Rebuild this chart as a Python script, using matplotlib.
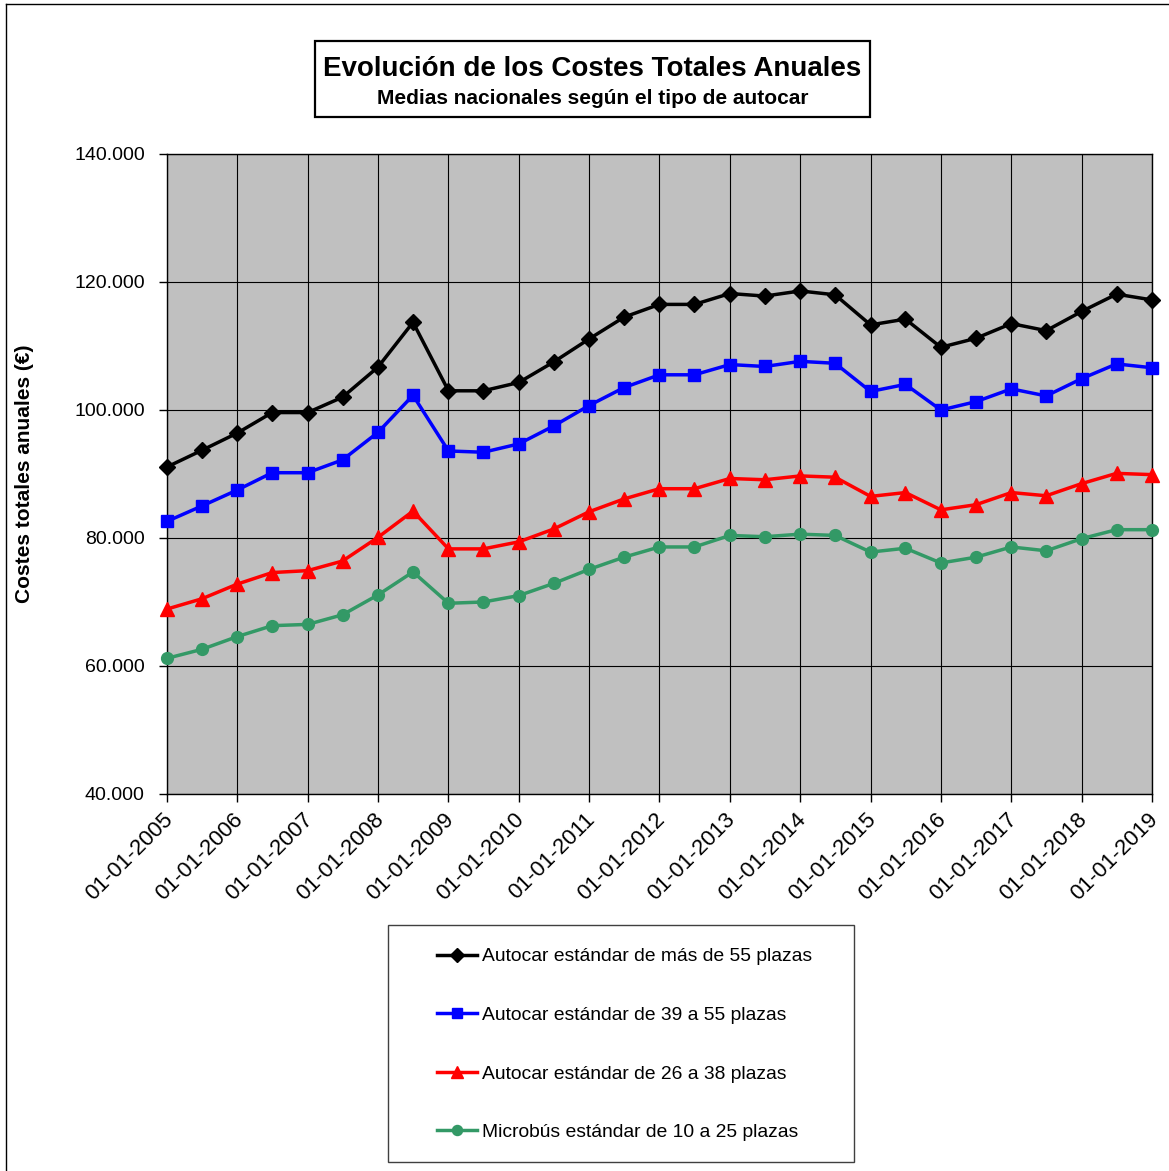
import matplotlib
matplotlib.use("Agg")
import matplotlib.pyplot as plt
import matplotlib.transforms as mtransforms
from matplotlib.patches import Rectangle
from matplotlib.lines import Line2D
import pandas as pd

plt.rcParams['font.family'] = ['Liberation Sans', 'DejaVu Sans']

# ---- data ----
dates = pd.date_range("2005-01-01", "2019-01-01", freq="6MS")

mas_55 = [91.1, 93.7, 96.4, 99.6, 99.6, 102.0, 106.7, 113.7, 103.0, 103.0,
          104.3, 107.5, 111.1, 114.5, 116.5, 116.5, 118.2, 117.8, 118.6,
          118.0, 113.3, 114.2, 109.8, 111.2, 113.5, 112.4, 115.4, 118.1, 117.2]
de_39_55 = [82.6, 85.0, 87.5, 90.2, 90.2, 92.2, 96.5, 102.3, 93.6, 93.4,
            94.7, 97.5, 100.7, 103.5, 105.5, 105.5, 107.1, 106.8, 107.6,
            107.3, 102.9, 104.0, 100.0, 101.3, 103.3, 102.2, 104.9, 107.2, 106.6]
de_26_38 = [68.9, 70.5, 72.8, 74.6, 74.9, 76.4, 80.1, 84.2, 78.3, 78.3,
            79.4, 81.4, 84.1, 86.1, 87.7, 87.7, 89.3, 89.1, 89.7,
            89.5, 86.5, 87.1, 84.4, 85.2, 87.1, 86.6, 88.5, 90.1, 89.9]
micro_10_25 = [61.2, 62.6, 64.6, 66.3, 66.5, 68.0, 71.1, 74.7, 69.8, 70.0,
               71.0, 72.9, 75.1, 77.0, 78.6, 78.6, 80.4, 80.2, 80.6,
               80.4, 77.8, 78.4, 76.1, 77.0, 78.6, 78.0, 79.9, 81.3, 81.3]

series_labels = ["Autocar estándar de más de 55 plazas",
                 "Autocar estándar de 39 a 55 plazas",
                 "Autocar estándar de 26 a 38 plazas",
                 "Microbús estándar de 10 a 25 plazas"]

y_ticks = [40000, 60000, 80000, 100000, 120000, 140000]
y_tick_labels = ["40.000", "60.000", "80.000", "100.000", "120.000", "140.000"]
x_tick_years = list(range(2005, 2020))
x_tick_labels = ["01-01-%d" % y for y in x_tick_years]

title = "Evolución de los Costes Totales Anuales"
subtitle = "Medias nacionales según el tipo de autocar"
ylabel = "Costes totales anuales (€)"

# ---- figure ----
W, H = 1169, 1171
fig = plt.figure(figsize=(W / 100, H / 100), dpi=100)
fig.patch.set_facecolor("white")

ax = fig.add_axes([167 / W, 1 - 794 / H, (1152 - 167) / W, (794 - 154) / H])
ax.set_facecolor("#C0C0C0")

styles = [
    dict(color="black", marker="D", ms=8),
    dict(color="#0000FF", marker="s", ms=8.5),
    dict(color="#FF0000", marker="^", ms=9.5),
    dict(color="#339966", marker="o", ms=8.5),
]
all_series = [mas_55, de_39_55, de_26_38, micro_10_25]
handles = []
for vals, st, lab in zip(all_series, styles, series_labels):
    yv = [v * 1000 for v in vals]
    h, = ax.plot(dates, yv, color=st["color"], lw=2.5, marker=st["marker"],
                 ms=st["ms"], mec=st["color"], mfc=st["color"], label=lab,
                 clip_on=False, zorder=3)
    handles.append(h)

ax.set_ylim(40000, 140000)
ax.set_xlim(pd.Timestamp("2005-01-01"), pd.Timestamp("2019-01-01"))
ax.set_yticks(y_ticks)
ax.set_yticklabels(y_tick_labels, fontsize=14)
xt = [pd.Timestamp("%d-01-01" % y) for y in x_tick_years]
ax.set_xticks(xt)
ax.set_xticklabels(x_tick_labels, rotation=45, ha="right",
                   rotation_mode="anchor", fontsize=16)
ax.tick_params(axis="both", direction="out", length=6, width=1, color="black",
               pad=5)
ax.tick_params(axis="y", pad=10)
shift = mtransforms.ScaledTranslation(-5 / 100, 0, fig.dpi_scale_trans)
for lbl in ax.get_xticklabels():
    lbl.set_transform(lbl.get_transform() + shift)
ax.grid(True, color="black", lw=0.8, zorder=1)
ax.set_axisbelow(True)
for sp in ax.spines.values():
    sp.set_color("black")
    sp.set_linewidth(1)

# y label
fig.text(25 / W, 1 - 474 / H, ylabel, rotation=90, ha="center", va="center",
         fontsize=15, fontweight="bold")

# title box
fig.patches.append(Rectangle((315 / W, 1 - 117 / H), 555 / W, 76 / H,
                             transform=fig.transFigure, fill=False,
                             ec="black", lw=1.6))
fig.text(592.5 / W, 1 - 69 / H, title, ha="center", va="center",
         fontsize=20, fontweight="bold")
fig.text(592.5 / W, 1 - 99 / H, subtitle, ha="center", va="center",
         fontsize=15, fontweight="bold")

# outer frame (left and top)
fig.add_artist(Line2D([6 / W, 6 / W], [0, 1 - 4 / H], transform=fig.transFigure,
                      color="black", lw=1))
fig.add_artist(Line2D([6 / W, 1], [1 - 4 / H, 1 - 4 / H], transform=fig.transFigure,
                      color="black", lw=1))

# legend box
fig.patches.append(Rectangle((388 / W, 1 - 1162 / H), 466 / W, 237 / H,
                             transform=fig.transFigure, fill=True, fc="white",
                             ec="#404040", lw=1))
leg = fig.legend(handles=handles, labels=series_labels, loc="center left",
                 bbox_to_anchor=(437 / W, 1 - 1044.5 / H), frameon=False,
                 fontsize=13.9, borderpad=0, borderaxespad=0, handlelength=2.05,
                 handletextpad=0.28, labelspacing=2.13, markerscale=0.85)

fig.savefig("out.png", dpi=100)
